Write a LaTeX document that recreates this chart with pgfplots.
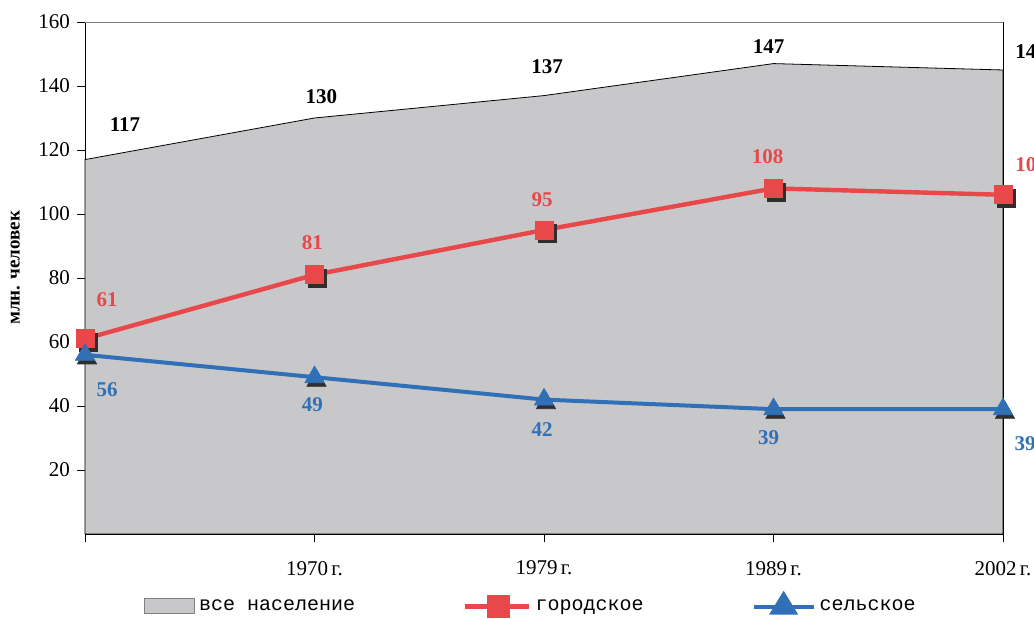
\documentclass[border=0pt]{standalone}
\usepackage{pgfplots}
\pgfplotsset{compat=1.18}
\usepackage{fontspec}
\setmainfont{Liberation Serif}
\newfontfamily\legfont{Liberation Mono}

\definecolor{areagray}{RGB}{200,200,202}
\definecolor{urbanred}{RGB}{232,72,74}
\definecolor{ruralblue}{RGB}{48,112,182}
\definecolor{shadow}{RGB}{50,45,45}

\pgfplotsset{
  urbanleg/.style={legend image code/.code={%
    \draw[urbanred, line width=2.2pt] (0pt,0pt) -- (32pt,0pt);
    \fill[urbanred] (12pt,-4.5pt) rectangle (21pt,4.5pt);}},
  ruralleg/.style={legend image code/.code={%
    \draw[ruralblue, line width=2pt] (0pt,0pt) -- (30pt,0pt);
    \fill[ruralblue] (9.5pt,-3pt) -- (20.5pt,-3pt) -- (15pt,6pt) -- cycle;}},
  arealeg/.style={legend image code/.code={%
    \draw[draw=gray, fill=areagray] (0pt,-3.5pt) rectangle (25pt,4pt);}},
}

\begin{document}
\begin{tikzpicture}
\begin{axis}[
  scale only axis,
  width=459pt, height=256pt,
  xmin=0, xmax=4,
  ymin=0, ymax=160,
  xtick={0,1,2,3,4},
  xticklabels={,1970\,г.,1979\,г.,1989\,г.,2002\,г.},
  ytick={20,40,60,80,100,120,140,160},
  tick align=outside,
  tick pos=left,
  major tick length=4pt,
  axis line style={black, thin},
  tick style={black, thin},
  clip=false,
  /pgf/number format/assume math mode=true,
  ticklabel style={font=\fontsize{10.5}{12}\selectfont},
  xticklabel style={yshift=-6pt},
  ylabel={\bfseries млн. человек},
  ylabel style={font=\fontsize{9.5}{11}\selectfont,
    at={(axis description cs:-0.076,0.52)}, anchor=center, rotate=0},
  legend columns=3,
  legend style={
    draw=none, fill=none,
    at={(0.487,-0.139)}, anchor=center,
    font=\legfont\fontsize{10}{12}\selectfont,
    /tikz/every even column/.append style={column sep=52pt},
  },
  legend cell align={left},
]
% total population area
\addplot [draw=black, thin, fill=areagray, arealeg]
  coordinates {(0,117) (1,130) (2,137) (3,147) (4,145)} \closedcycle;
\addlegendentry{все население}

% shadows of markers
\addplot [only marks, mark=square*, mark size=4.5pt, color=shadow,
  every mark/.append style={xshift=1.5pt, yshift=-1.8pt}, forget plot]
  coordinates {(0,61) (1,81) (2,95) (3,108) (4,106)};
\addplot [only marks, mark=triangle*, mark size=5.5pt, color=shadow,
  every mark/.append style={xshift=1pt, yshift=-1.8pt}, forget plot]
  coordinates {(0,56) (1,49) (2,42) (3,39) (4,39)};

\addplot [urbanred, line width=2.2pt, mark=square*, mark size=4.5pt,
  mark options={solid, fill=urbanred, draw=urbanred, line width=0.4pt}, urbanleg]
  coordinates {(0,61) (1,81) (2,95) (3,108) (4,106)};
\addlegendentry{городское}

\addplot [ruralblue, line width=2pt, mark=triangle*, mark size=5.5pt,
  mark options={solid, fill=ruralblue, draw=ruralblue, line width=0.4pt}, ruralleg]
  coordinates {(0,56) (1,49) (2,42) (3,39) (4,39)};
\addlegendentry{сельское}

% value labels
\begin{scope}[every node/.style={font=\bfseries\fontsize{10.5}{12}\selectfont}]
\node[black] at (axis cs:0,117) [xshift=20pt, yshift=17.5pt] {117};
\node[black] at (axis cs:1,130) [xshift=3.5pt, yshift=10.5pt] {130};
\node[black] at (axis cs:2,137) [xshift=1.5pt, yshift=14.5pt] {137};
\node[black] at (axis cs:3,147) [xshift=-2.5pt, yshift=8.5pt] {147};
\node[black] at (axis cs:4,145) [xshift=14pt, yshift=9pt] {145};
\node[urbanred] at (axis cs:0,61) [xshift=11pt, yshift=19.5pt] {61};
\node[urbanred] at (axis cs:1,81) [xshift=-1pt, yshift=16pt] {81};
\node[urbanred] at (axis cs:2,95) [xshift=-1pt, yshift=15pt] {95};
\node[urbanred] at (axis cs:3,108) [xshift=-3pt, yshift=16pt] {108};
\node[urbanred] at (axis cs:4,106) [xshift=14pt, yshift=15pt] {106};
\node[ruralblue] at (axis cs:0,56) [xshift=11pt, yshift=-17.5pt] {56};
\node[ruralblue] at (axis cs:1,49) [xshift=-1pt, yshift=-13.5pt] {49};
\node[ruralblue] at (axis cs:2,42) [xshift=-1pt, yshift=-15pt] {42};
\node[ruralblue] at (axis cs:3,39) [xshift=-2.5pt, yshift=-14pt] {39};
\node[ruralblue] at (axis cs:4,39) [xshift=11pt, yshift=-17pt] {39};
\end{scope}
% top and right border lines
\draw[gray, thin] (rel axis cs:0,1) -- (rel axis cs:1,1);
\draw[black, thin] (rel axis cs:1,0) -- (rel axis cs:1,1);
\end{axis}
\pgfresetboundingbox
\path[use as bounding box]
  ([shift={(-42.5pt,-42.5pt)}]current axis.south west) rectangle
  ([shift={(474.5pt,267pt)}]current axis.south west);
\end{tikzpicture}
\end{document}
